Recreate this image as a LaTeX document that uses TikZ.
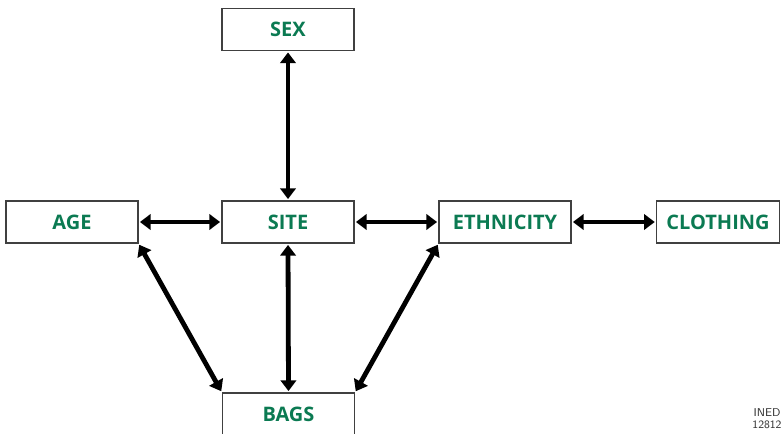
\documentclass[tikz,border=0pt]{standalone}
\usepackage{fontspec}
\setmainfont{Open Sans}
\usetikzlibrary{arrows.meta}
\definecolor{ined}{HTML}{0B7A52}
\begin{document}
\begin{tikzpicture}[x=0.75pt,y=-0.75pt,
  box/.style={draw=black!75,line width=0.9pt,minimum width=99pt,minimum height=31.5pt,
    inner sep=0pt,font=\bfseries\fontsize{15}{17}\selectfont,text=ined},
  link/.style={line width=3.6pt,{Triangle[length=8pt,width=11.5pt]}-{Triangle[length=8pt,width=11.5pt]},shorten <=1pt,shorten >=1pt}]
\useasboundingbox (0,0) rectangle (781,434);
\node[box] (sex) at (288,29.5) {SEX};
\node[box] (age) at (72,222) {AGE};
\node[box] (site) at (288,222) {SITE};
\node[box] (eth) at (505,222) {ETHNICITY};
\node[box,minimum width=92pt] (clo) at (718,222) {CLOTHING};
\node[box] (bags) at (288.5,414) {BAGS};
\node[font=\fontsize{8.5}{9}\selectfont\sffamily,align=center,text=black!80] (ined) at (767,419) {INED\\12812};
\draw[link] (sex.south) -- (site.north);
\draw[link] (age.east) -- (site.west);
\draw[link] (site.east) -- (eth.west);
\draw[link] (eth.east) -- (clo.west);
\draw[link] (site.south) -- (bags.north);
\draw[link] (age.south east) -- (bags.north west);
\draw[link] (eth.south west) -- (bags.north east);
\end{tikzpicture}
\end{document}
